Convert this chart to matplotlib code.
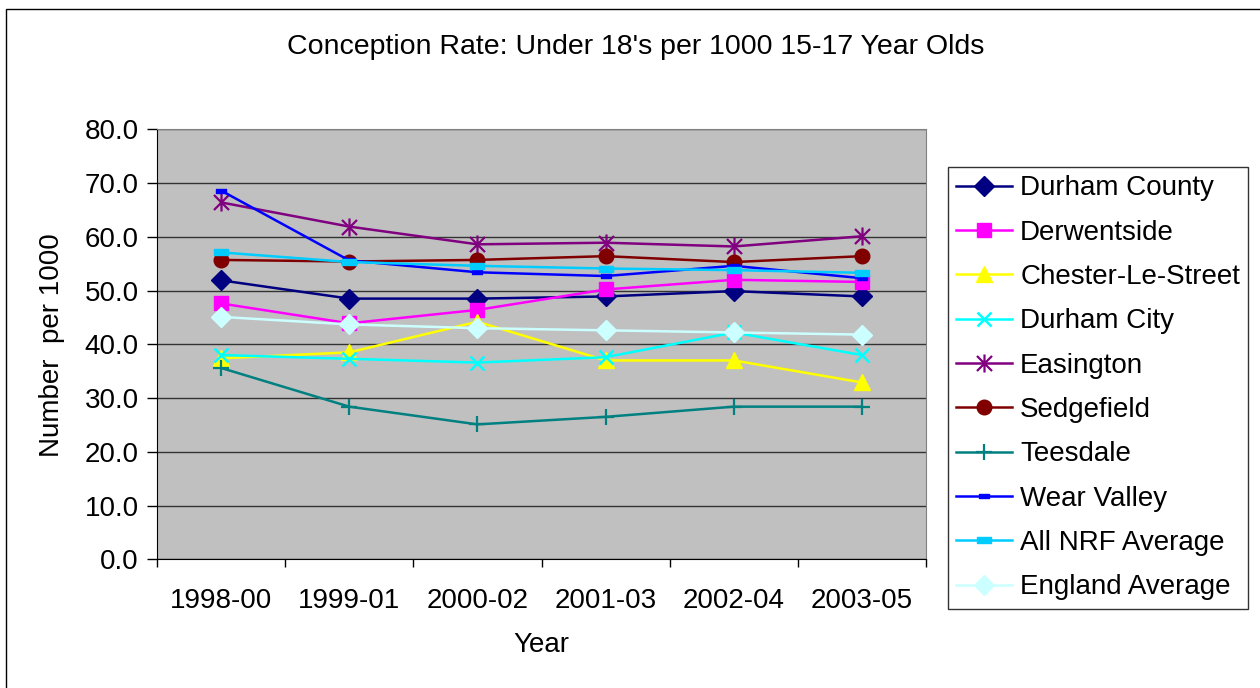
import matplotlib

matplotlib.use("Agg")
import matplotlib.pyplot as plt
from matplotlib.patches import Rectangle
from matplotlib.path import Path

plt.rcParams["font.family"] = ["Liberation Sans", "DejaVu Sans"]

YEARS = ["1998-00", "1999-01", "2000-02", "2001-03", "2002-04", "2003-05"]

DURHAM_COUNTY = [51.9, 48.5, 48.5, 48.9, 49.9, 48.9]
DERWENTSIDE = [47.6, 43.9, 46.4, 50.2, 52.0, 51.6]
CHESTER_LE_STREET = [37.4, 38.5, 44.2, 37.0, 37.0, 32.9]
DURHAM_CITY = [38.0, 37.3, 36.6, 37.6, 42.2, 38.0]
EASINGTON = [66.4, 61.9, 58.6, 58.9, 58.2, 60.1]
SEDGEFIELD = [55.7, 55.4, 55.7, 56.4, 55.3, 56.4]
TEESDALE = [35.6, 28.4, 25.1, 26.5, 28.4, 28.4]
WEAR_VALLEY = [68.6, 55.6, 53.4, 52.7, 54.6, 52.3]
ALL_NRF_AVERAGE = [57.1, 55.3, 54.6, 54.1, 53.8, 53.3]
ENGLAND_AVERAGE = [45.1, 43.7, 43.0, 42.6, 42.2, 41.8]

Y_TICKS = [0, 10, 20, 30, 40, 50, 60, 70, 80]

W, H = 1260, 688


def rect_marker(half_w, half_h):
    return Path(
        [(-half_w, -half_h), (half_w, -half_h), (half_w, half_h),
         (-half_w, half_h), (-half_w, -half_h)],
        [Path.MOVETO, Path.LINETO, Path.LINETO, Path.LINETO, Path.CLOSEPOLY],
    )


# x-cross with a vertical bar through it
STAR = Path(
    [(-1, -1), (1, 1), (-1, 1), (1, -1), (0, -1.2), (0, 1.2)],
    [Path.MOVETO, Path.LINETO, Path.MOVETO, Path.LINETO, Path.MOVETO, Path.LINETO],
)

series = [
    ("Durham County", DURHAM_COUNTY, "#000080", dict(marker="D", ms=10)),
    ("Derwentside", DERWENTSIDE, "#FF00FF", dict(marker="s", ms=9.5)),
    ("Chester-Le-Street", CHESTER_LE_STREET, "#FFFF00", dict(marker="^", ms=11)),
    ("Durham City", DURHAM_CITY, "#00FFFF", dict(marker="x", ms=10.5, mew=1.8)),
    ("Easington", EASINGTON, "#800080", dict(marker=STAR, ms=13, mew=1.6)),
    ("Sedgefield", SEDGEFIELD, "#800000", dict(marker="o", ms=10.5)),
    ("Teesdale", TEESDALE, "#008080", dict(marker="+", ms=12, mew=1.6)),
    ("Wear Valley", WEAR_VALLEY, "#0000FF", dict(marker=rect_marker(1, 0.5), ms=7)),
    ("All NRF Average", ALL_NRF_AVERAGE, "#00CCFF", dict(marker=rect_marker(1, 0.4), ms=10)),
    ("England Average", ENGLAND_AVERAGE, "#CCFFFF", dict(marker="D", ms=10)),
]

fig = plt.figure(figsize=(W / 100, H / 100), dpi=100)
ax = fig.add_axes([157 / W, 1 - 559.3 / H, (926 - 157) / W, (559.3 - 129.3) / H])
ax.set_facecolor("#C0C0C0")

x = list(range(len(YEARS)))
for name, values, color, style in series:
    ax.plot(x, values, color=color, lw=1.8, label=name,
            mfc=color, mec=color, **style)

ax.set_xlim(-0.5, len(YEARS) - 0.5)
ax.set_ylim(0, 80)
ax.set_yticks(Y_TICKS)
ax.set_yticklabels([f"{v:.1f}" for v in Y_TICKS], fontsize=20)
ax.set_xticks(x)
ax.set_xticklabels(YEARS, fontsize=20)
ax.tick_params(axis="x", length=0, pad=21)
ax.set_xticks([i - 0.5 for i in range(len(YEARS) + 1)], minor=True)
ax.tick_params(axis="x", which="minor", length=6, width=1, direction="out")
ax.tick_params(axis="y", length=7, width=1, pad=6)
ax.yaxis.grid(True, color="#333333", lw=1)
ax.set_axisbelow(True)
for side in ("top", "right"):
    ax.spines[side].set_color("#808080")
for side in ("left", "bottom"):
    ax.spines[side].set_color("black")

fig.text(636 / W, 1 - 47 / H, "Conception Rate: Under 18's per 1000 15-17 Year Olds",
         ha="center", va="center", fontsize=20.5)
fig.text(52 / W, 1 - 345 / H, "Number  per 1000", rotation=90,
         ha="center", va="center", fontsize=20)
fig.text(541 / W, 1 - 645 / H, "Year", ha="center", va="center", fontsize=20)

leg = fig.legend(
    loc="upper left", bbox_to_anchor=(948 / W, 1 - 167 / H), borderaxespad=0,
    fontsize=20, frameon=True, fancybox=False, handlelength=2.0,
    handletextpad=0.3, labelspacing=0.66, borderpad=0.3,
)
leg.get_frame().set_edgecolor("black")
leg.get_frame().set_linewidth(1)

fig.patches.append(Rectangle((6 / W, -0.1), 2, 1.1 - 9 / H, transform=fig.transFigure,
                             fill=False, ec="black", lw=1))

fig.savefig("out.png", dpi=100)
